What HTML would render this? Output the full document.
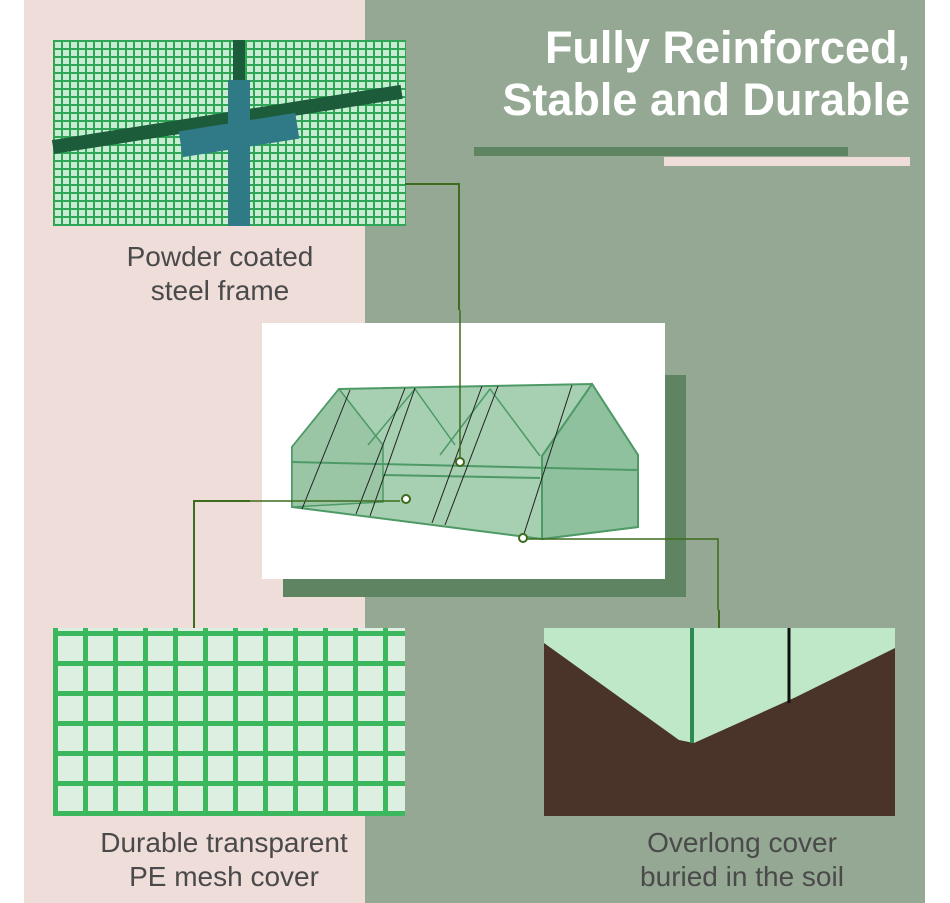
<!DOCTYPE html>
<html><head><meta charset="utf-8"><style>
body{margin:0;width:950px;height:903px;position:relative;background:#fff;overflow:hidden;font-family:"Liberation Sans",sans-serif}
.a{position:absolute}
.lbl{position:absolute;color:#4a4a4a;font-size:28px;text-align:center;line-height:34px;font-weight:300}
.mesh{background-color:#c8ecd2;background-image:repeating-linear-gradient(90deg,#2fa558 0 2px,transparent 2px 8px),repeating-linear-gradient(0deg,#2fa558 0 2px,transparent 2px 8px)}
.mesh2{background-color:#dcefe0;background-image:repeating-linear-gradient(90deg,#3bb85e 0 5px,transparent 5px 30px),repeating-linear-gradient(0deg,#3bb85e 0 5px,transparent 5px 30px)}
</style></head><body>
<div class="a" style="left:24px;top:0;width:341px;height:903px;background:#eeddd9"></div>
<div class="a" style="left:365px;top:0;width:560px;height:903px;background:#94a893"></div>
<div class="a" style="left:400px;top:22px;width:510px;text-align:right;color:#fff;font-weight:bold;font-size:45px;line-height:52px">Fully Reinforced,<br>Stable and Durable</div>
<div class="a" style="left:474px;top:147px;width:374px;height:9px;background:#5e8462"></div>
<div class="a" style="left:664px;top:157px;width:246px;height:9px;background:#eeddd9"></div>

<div class="a mesh" style="left:53px;top:40px;width:353px;height:186px"></div>
<div class="a" style="left:53px;top:140px;width:353px;height:14px;background:#1d5c3a;transform:rotate(-9deg);transform-origin:left"></div>
<div class="a" style="left:233px;top:40px;width:12px;height:186px;background:#1d5c3a"></div>
<div class="a" style="left:228px;top:80px;width:22px;height:146px;background:#2f7a86"></div>
<div class="a" style="left:180px;top:122px;width:118px;height:26px;background:#2f7a86;transform:rotate(-9deg)"></div>
<div class="lbl" style="left:70px;top:240px;width:300px">Powder coated<br>steel frame</div>

<div class="a" style="left:283px;top:375px;width:403px;height:222px;background:#5e8462"></div>
<div class="a" style="left:262px;top:323px;width:403px;height:256px;background:#fff"></div>
<svg class="a" style="left:250px;top:310px" width="500" height="300">
<polygon points="28,290 200,297 400,300 450,290 400,280 200,282" fill="none"/>
<polygon points="42,137 89,79 342,74 388,145 388,217 292,229 42,197" fill="#a7cfb1" stroke="#4e9a67" stroke-width="2"/>
<polygon points="42,137 89,79 133,135 133,192 42,197" fill="#9ac6a6" stroke="#4e9a67" stroke-width="1.5"/>
<polyline points="118,135 165,79 205,135" fill="none" stroke="#4e9a67" stroke-width="1.5"/>
<polyline points="190,145 240,79 290,146" fill="none" stroke="#4e9a67" stroke-width="1.5"/>
<polygon points="292,229 292,146 342,74 388,145 388,217" fill="#8fc19e" stroke="#4e9a67" stroke-width="2"/>
<line x1="42" y1="152" x2="388" y2="160" stroke="#4e9a67" stroke-width="2"/>
<line x1="133" y1="165" x2="290" y2="168" stroke="#4e9a67" stroke-width="2"/>
<g stroke="#222" stroke-width="1"><line x1="52" y1="199" x2="100" y2="80"/><line x1="106" y1="204" x2="155" y2="78"/><line x1="120" y1="206" x2="165" y2="78"/><line x1="182" y1="213" x2="232" y2="76"/><line x1="195" y1="215" x2="248" y2="76"/><line x1="273" y1="227" x2="322" y2="75"/></g>
<line x1="210" y1="0" x2="210" y2="152" stroke="#3e6b1e" stroke-width="1.5"/>
<circle cx="210" cy="152" r="4" fill="#fff" stroke="#3e6b1e" stroke-width="2"/>
<polyline points="0,191 150,191" fill="none" stroke="#3e6b1e" stroke-width="1.5"/>
<circle cx="156" cy="189" r="4" fill="#fff" stroke="#3e6b1e" stroke-width="2"/>
<polyline points="277,229 468,229 468,300" fill="none" stroke="#3e6b1e" stroke-width="1.5"/>
<circle cx="273" cy="228" r="4" fill="#fff" stroke="#3e6b1e" stroke-width="2"/>
</svg>
<div class="a" style="left:405px;top:183px;width:53px;height:1.5px;background:#3e6b1e"></div>
<div class="a" style="left:458px;top:183px;width:1.5px;height:127px;background:#3e6b1e"></div>
<div class="a" style="left:193px;top:500px;width:57px;height:1.5px;background:#3e6b1e"></div>
<div class="a" style="left:193px;top:500px;width:1.5px;height:128px;background:#3e6b1e"></div>
<div class="a" style="left:718px;top:610px;width:1.5px;height:18px;background:#3e6b1e"></div>

<div class="a mesh2" style="left:53px;top:628px;width:352px;height:188px"></div>
<div class="lbl" style="left:74px;top:826px;width:300px">Durable transparent<br>PE mesh cover</div>

<div class="a" style="left:544px;top:628px;width:351px;height:188px;background:#4a3328"></div>
<svg class="a" style="left:544px;top:628px" width="351" height="188"><polygon points="0,0 351,0 351,20 250,70 150,115 135,112 0,15" fill="#bfe8c8"/><line x1="148" y1="0" x2="148" y2="115" stroke="#2e8a52" stroke-width="4"/><line x1="245" y1="0" x2="245" y2="75" stroke="#111" stroke-width="3"/></svg>
<div class="lbl" style="left:592px;top:826px;width:300px">Overlong cover<br>buried in the soil</div>
</body></html>
